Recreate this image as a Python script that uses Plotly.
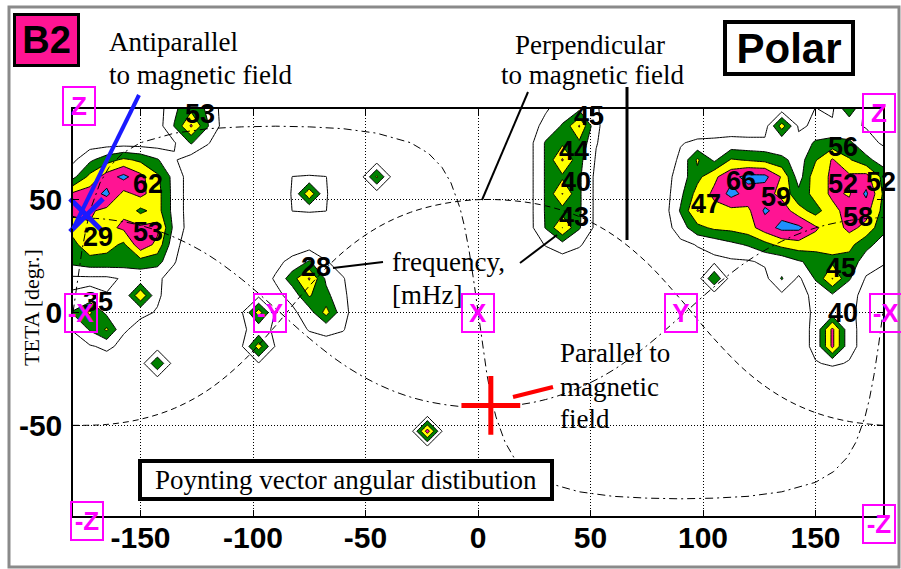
import numpy as np
import plotly.graph_objects as go

# ---------------- data ----------------
# Poynting-vector intensity field on a 7.5 deg grid.
# each row: (lat, first lon, values along increasing lon)
anti_patch = [
    (67.5, -180.0, [0.6, 2.6, 4.2, 5.4, 4.6, 3.2, 1.2]),
    (60.0, -180.0, [2.4, 5.6, 8.0, 9.6, 7.6, 5.4, 2.2]),
    (52.5, -180.0, [7.4, 8.0, 9.5, 6.4, 7.6, 5.8, 2.2]),
    (45.0, -180.0, [7.6, 7.3, 6.4, 6.6, 4.5, 5.8, 2.2]),
    (37.5, -180.0, [5.8, 6.8, 6.4, 7.4, 7.4, 7.6, 2.4]),
    (30.0, -180.0, [4.4, 6.4, 5.8, 4.6, 8.4, 6.4, 1.5]),
    (22.5, -180.0, [3.6, 4.2, 4.2, 4.0, 4.2, 3.8, 1.1]),
    (15.0, -180.0, [0.6, 0.6, 0.6, 1.2, 1.5, 1.2, 0.5]),
    (7.5, -180.0, [1.2, 1.5, 1.1, 1.3, 6.8, 1.2, 0.3]),
    (0.0, -180.0, [3.2, 5.3, 2.5, 1.3, 1.3, 0.9, 0.0]),
    (-7.5, -180.0, [1.1, 3.2, 5.3, 1.2, 0.5, 0.0, 0.0]),
    (-15.0, -180.0, [0.3, 0.8, 1.4, 0.5, 0.0, 0.0, 0.0]),
]
top53_patch = [
    (90.0, -135.0, [2.6, 4.5, 2.6]),
    (82.5, -135.0, [3.1, 7.3, 3.1]),
    (75.0, -135.0, [0.8, 3.2, 1.1]),
]
box75_patch = [
    (60.0, -82.5, [1.02, 1.1, 1.02]),
    (52.5, -82.5, [1.1, 6.5, 1.1]),
    (45.0, -82.5, [1.02, 1.1, 1.02]),
]
negy_patch = [
    (7.5, -105.0, [0.2, 0.5, 0.2]),
    (0.0, -105.0, [0.8, 6.0, 0.8]),
    (-7.5, -105.0, [0.8, 1.5, 0.8]),
    (-15.0, -105.0, [0.8, 6.0, 0.8]),
    (-22.5, -105.0, [0.2, 0.9, 0.2]),
]
blob28_patch = [
    (22.5, -90.0, [0.5, 1.5, 3.2, 1.1, 0.3]),
    (15.0, -90.0, [1.2, 4.2, 7.2, 2.6, 1.1]),
    (7.5, -90.0, [0.5, 1.6, 5.2, 3.6, 1.3]),
    (0.0, -90.0, [0.2, 0.6, 2.0, 5.8, 1.5]),
    (-7.5, -90.0, [0.0, 0.3, 1.1, 1.4, 1.1]),
    (-15.0, -90.0, [0.0, 0.0, 0.2, 0.4, 0.2]),
]
col45_patch = [
    (90.0, 22.5, [0.2, 0.8, 1.8, 2.6, 1.2]),
    (82.5, 22.5, [0.2, 1.5, 3.2, 7.2, 1.3]),
    (75.0, 22.5, [0.2, 3.2, 4.6, 4.6, 1.1]),
    (67.5, 22.5, [0.2, 3.2, 7.2, 3.6, 0.8]),
    (60.0, 22.5, [0.2, 3.2, 4.6, 3.3, 0.5]),
    (52.5, 22.5, [0.2, 3.2, 7.1, 3.3, 0.5]),
    (45.0, 22.5, [0.2, 3.2, 4.2, 3.3, 0.5]),
    (37.5, 22.5, [0.2, 3.1, 7.05, 3.2, 0.5]),
    (30.0, 22.5, [0.0, 1.1, 2.2, 1.2, 0.0]),
]
right_patch = [
    (90.0, 82.5, [0, 0, 0, 0, 0, 0, 0, 0, 0, 1.05, 0.7, 4.5, 0.3, 0]),
    (82.5, 82.5, [0, 0, 0, 0, 0, 0, 0, 6.0, 0.7, 1.3, 1.3, 1.3, 0.9, 0.2]),
    (75.0, 82.5, [0, 0.9, 1.3, 1.4, 1.6, 1.5, 1.5, 1.2, 1.6, 3.3, 3.8, 3.4, 1.6, 0.8]),
    (67.5, 82.5, [0, 1.3, 5.3, 2.6, 5.2, 4.8, 4.4, 3.6, 2.0, 4.8, 7.2, 5.2, 3.6, 2.0]),
    (60.0, 82.5, [0, 2.0, 4.4, 6.6, 8.4, 9.6, 9.6, 6.8, 2.0, 6.4, 7.2, 7.4, 7.8, 4.4]),
    (52.5, 82.5, [0, 2.5, 5.8, 7.4, 9.7, 8.2, 7.8, 6.4, 3.6, 5.8, 7.4, 6.8, 9.4, 4.8]),
    (45.0, 82.5, [0, 3.2, 7.1, 6.4, 6.4, 6.6, 9.3, 8.2, 5.8, 4.2, 6.4, 7.8, 7.8, 4.4]),
    (37.5, 82.5, [0, 2.0, 4.4, 5.4, 5.6, 6.2, 8.0, 9.6, 9.5, 7.3, 5.8, 7.6, 6.4, 3.6]),
    (30.0, 82.5, [0, 0.5, 1.1, 1.6, 2.5, 3.2, 4.4, 5.6, 6.2, 6.0, 5.6, 5.6, 3.6, 2.2]),
    (22.5, 82.5, [0, 0, 0.3, 0.6, 0.7, 0.8, 1.3, 1.6, 2.8, 3.6, 4.6, 4.2, 2.0, 1.2]),
    (15.0, 82.5, [0, 0, 0, 4.8, 0, 0, 0.4, 3.2, 0.6, 3.2, 7.1, 3.2, 0.8, 0.3]),
    (7.5, 82.5, [0, 0, 0, 0, 0, 0, 0, 0.5, 0.3, 1.5, 2.6, 1.5, 0.5, 0]),
    (0.0, 82.5, [0, 0, 0, 0, 0, 0, 0, 0, 0.3, 1.3, 1.8, 1.3, 0.5, 0]),
    (-7.5, 82.5, [0, 0, 0, 0, 0, 0, 0, 0, 0.3, 1.4, 7.5, 1.4, 0.5, 0]),
    (-15.0, 82.5, [0, 0, 0, 0, 0, 0, 0, 0, 0.3, 1.4, 7.5, 1.4, 0.5, 0]),
    (-22.5, 82.5, [0, 0, 0, 0, 0, 0, 0, 0, 0, 0.9, 1.2, 0.9, 0, 0]),
]
peak_lon = [-45.0, -142.5, -22.5]
peak_lat = [60.0, -22.5, -52.5]
peak_val = [5.3, 4.8, 8.0]

# reference great circles
perp_lon = [-180, -165, -150, -135, -120, -105, -90, -75, -60, -45, -30, -15, 0,
            15, 30, 45, 60, 75, 90, 105, 120, 135, 150, 165, 180]
perp_lat = [-49.9, -49.5, -47.2, -42.4, -34.3, -22.1, -5.9, 11.7, 26.7, 37.4, 44.3, 48.2, 49.9,
            49.5, 47.2, 42.4, 34.3, 22.1, 5.9, -11.7, -26.7, -37.4, -44.3, -48.2, -49.9]
ycirc_lon = perp_lon
ycirc_lat = [42.0, 41.2, 38.5, 33.3, 25.5, 14.7, 1.8, -11.4, -22.9, -31.5, -37.4, -40.7, -42.0,
             -41.2, -38.5, -33.3, -25.5, -14.7, -1.8, 11.4, 22.9, 31.5, 37.4, 40.7, 42.0]
xcirc_lon = [-180, -178, -176, -174, -172, -168, -164, -158, -150, -135, -120, -105, -90, -75, -60,
             -45, -30, -22, -16, -12, -8, -6, -4, -2, 0, 2, 4, 6, 8, 12, 16, 22, 30, 45, 60, 75,
             90, 105, 120, 135, 150, 158, 164, 168, 172, 174, 176, 178, 180]
xcirc_lat = [0, 14.7, 27.6, 38.1, 46.2, 57.3, 64.2, 70.4, 75.1, 79.3, 81.3, 82.1, 82.4, 82.1, 81.3,
             79.3, 75.1, 70.4, 64.2, 57.3, 46.2, 38.1, 27.6, 14.7, 0, -14.7, -27.6, -38.1, -46.2,
             -57.3, -64.2, -70.4, -75.1, -79.3, -81.3, -82.1, -82.4, -82.1, -81.3, -79.3, -75.1,
             -70.4, -64.2, -57.3, -46.2, -38.1, -27.6, -14.7, 0]

# frequency labels [mHz]
freq_text = ["53", "62", "29", "53", "35", "28", "45", "44", "40", "43",
             "56", "66", "47", "59", "52", "52", "58", "45", "40"]
freq_lon = [-123.4, -146.5, -168.7, -146.5, -168.7, -72.2, 49.2, 42.6, 43.5, 42.6,
            162.2, 116.9, 101.3, 132.4, 162.2, 179.1, 168.9, 161.3, 162.2]
freq_lat = [87.9, 56.8, 33.6, 35.4, 4.8, 20.3, 87.0, 71.4, 57.6, 42.1,
            73.2, 58.1, 47.9, 51.0, 56.8, 57.6, 42.1, 19.9, -0.1]

# coordinate axis markers
axis_text = ["Z", "Z", "-Z", "-Z", "-X", "X", "Y", "-Y", "-X"]
axis_lon = [-177.2, 178.2, -173.6, 178.2, -176.3, 0.0, 90.0, -92.6, 181.3]
axis_lat = [91.4, 88.3, -92.1, -93.5, 0.0, 0.0, 0.0, 0.0, 0.0]

# magnetic field directions
b_par = (5.7, -41.1)
b_anti = (-174.0, 43.0)

x_ticks = [-150, -100, -50, 0, 50, 100, 150]
y_ticks = [-50, 0, 50]

# ---------------- build field ----------------
lon_grid = np.arange(-180.0, 180.0 + 0.01, 7.5)
lat_grid = np.arange(-90.0, 90.0 + 0.01, 7.5)
z = np.zeros((len(lat_grid), len(lon_grid)))


def put(patch):
    for lat, lon0, vals in patch:
        j = int(round((lat + 90) / 7.5))
        i0 = int(round((lon0 + 180) / 7.5))
        for d, v in enumerate(vals):
            if 0 <= i0 + d < z.shape[1]:
                z[j, i0 + d] = max(z[j, i0 + d], v)


for p in [anti_patch, top53_patch, box75_patch, negy_patch, blob28_patch, col45_patch, right_patch]:
    put(p)
for lo, la, v in zip(peak_lon, peak_lat, peak_val):
    put([(la, lo, [v])])

# ---------------- figure ----------------
L, R, T, B = 73, 883, 109, 516


def px(x):
    return (x - L) / (R - L)


def py(y):
    return (B - y) / (B - T)


fig = go.Figure()

for lo, la, dash in [(perp_lon, perp_lat, "6px,4px"),
                     (ycirc_lon, ycirc_lat, "8px,4px,2px,4px"),
                     (xcirc_lon, xcirc_lat, "8px,4px,2px,4px")]:
    fig.add_trace(go.Scatter(x=lo, y=la, mode="lines", hoverinfo="skip",
                             line=dict(color="black", width=1, dash=dash,
                                       shape="spline" if len(lo) == 25 else "linear")))

tr = "rgba(255,255,255,0)"
cscale = [[0, tr], [0.3, tr], [0.3, "#008000"], [0.5, "#008000"], [0.5, "#ffff00"],
          [0.7, "#ffff00"], [0.7, "#ff1493"], [0.9, "#ff1493"], [0.9, "#1e90ff"], [1, "#1e90ff"]]
fig.add_trace(go.Contour(x=lon_grid, y=lat_grid, z=z, autocontour=False,
                         contours=dict(start=1, end=9, size=2, coloring="fill", showlines=True),
                         line=dict(color="black", width=1, smoothing=0),
                         colorscale=cscale, showscale=False, hoverinfo="skip"))

fig.add_trace(go.Scatter(x=[b_anti[0]], y=[b_anti[1]], mode="markers", cliponaxis=False,
                         marker=dict(symbol="x-thin", size=33, line=dict(width=5, color="#1a1aff")),
                         hoverinfo="skip"))
fig.add_trace(go.Scatter(x=[b_par[0]], y=[b_par[1]], mode="markers", cliponaxis=False,
                         marker=dict(symbol="cross-thin", size=42, line=dict(width=5, color="#ff0000")),
                         hoverinfo="skip"))

ann = []
SANS = "Liberation Sans"
SERIF = "Liberation Serif"
for t, lo, la in zip(freq_text, freq_lon, freq_lat):
    ann.append(dict(x=lo, y=la, xref="x", yref="y", text="<b>%s</b>" % t, showarrow=False,
                    font=dict(family=SANS, size=27, color="black")))
for t, lo, la in zip(axis_text, axis_lon, axis_lat):
    # axis markers may sit just outside the axis ranges -> place via paper fractions
    ann.append(dict(x=(lo + 180) / 360, y=(la + 90) / 180, xref="paper", yref="paper",
                    xanchor="center", yanchor="middle",
                    text="<b>%s</b>" % t, showarrow=False,
                    font=dict(family=SANS, size=26, color="#ff00ff"),
                    bordercolor="#ff00ff", borderwidth=2, borderpad=0, width=30, height=36))


def ptext(text, x, y, size=27, xanchor="left", family=SERIF, **kw):
    d = dict(x=px(x), y=py(y), xref="paper", yref="paper", text=text, showarrow=False,
             xanchor=xanchor, yanchor="middle", font=dict(family=family, size=size, color="black"))
    d.update(kw)
    ann.append(d)


ptext("Antiparallel", 107, 42)
ptext("to magnetic field", 107, 75)
ptext("Perpendicular", 590, 45, xanchor="center")
ptext("to magnetic field", 592, 75, xanchor="center")
ptext("frequency,", 390, 262)
ptext("[mHz]", 390, 295)
ptext("Parallel to", 558, 353)
ptext("magnetic", 558, 387)
ptext("field", 558, 419)
ptext("Poynting vector angular distibution", 346, 480, xanchor="center",
      bordercolor="black", borderwidth=4, borderpad=2, bgcolor="white", width=404, height=30)
ptext("<b>Polar</b>", 789, 47.5, size=42, xanchor="center", family=SANS,
      bordercolor="black", borderwidth=4, borderpad=3, bgcolor="white", width=118, height=42)
ptext("<b>B2</b>", 46.5, 40, size=38, xanchor="center", family=SANS,
      bordercolor="black", borderwidth=3, borderpad=2, bgcolor="#ff1493", width=57, height=44)
ptext("TETA [degr.]", 31, 308, size=22, xanchor="center", textangle=-90)

shapes = []


def pline(x0, y0, x1, y1, color="black", width=2):
    shapes.append(dict(type="line", xref="paper", yref="paper", x0=px(x0), y0=py(y0),
                       x1=px(x1), y1=py(y1), line=dict(color=color, width=width)))


pline(139, 95, 73, 229, color="#1a1aff", width=4)
pline(528, 92, 482, 200)
pline(627, 87, 627, 240, width=3)
pline(333, 268, 383, 262)
pline(520, 263, 557, 235)
pline(513, 397, 553, 387, color="#ff0000", width=4)
shapes.append(dict(type="rect", xref="paper", yref="paper", x0=px(9), y0=py(7), x1=px(899), y1=py(567),
                   line=dict(color="#8a8a8a", width=3)))

axis_common = dict(showline=True, linecolor="black", linewidth=1.5, mirror="ticks",
                   ticks="inside", ticklen=6, tickcolor="black", tickwidth=1,
                   showgrid=True, gridcolor="black", gridwidth=1, griddash="1px,2px",
                   zeroline=False, tickfont=dict(family=SANS, size=30, color="black"))

fig.update_layout(
    width=901, height=569, margin=dict(l=L, r=901 - R, t=T, b=569 - B),
    paper_bgcolor="white", plot_bgcolor="white", showlegend=False,
    xaxis=dict(range=[-180, 180], tickvals=x_ticks, ticktext=["<b>%d</b>" % v for v in x_ticks],
               ticklabelstandoff=-6, **axis_common),
    yaxis=dict(range=[-90, 90], tickvals=y_ticks, ticktext=["<b>%d</b>" % v for v in y_ticks],
               ticklabelstandoff=3, **axis_common),
    annotations=ann, shapes=shapes,
)

fig.write_html("out.html")
